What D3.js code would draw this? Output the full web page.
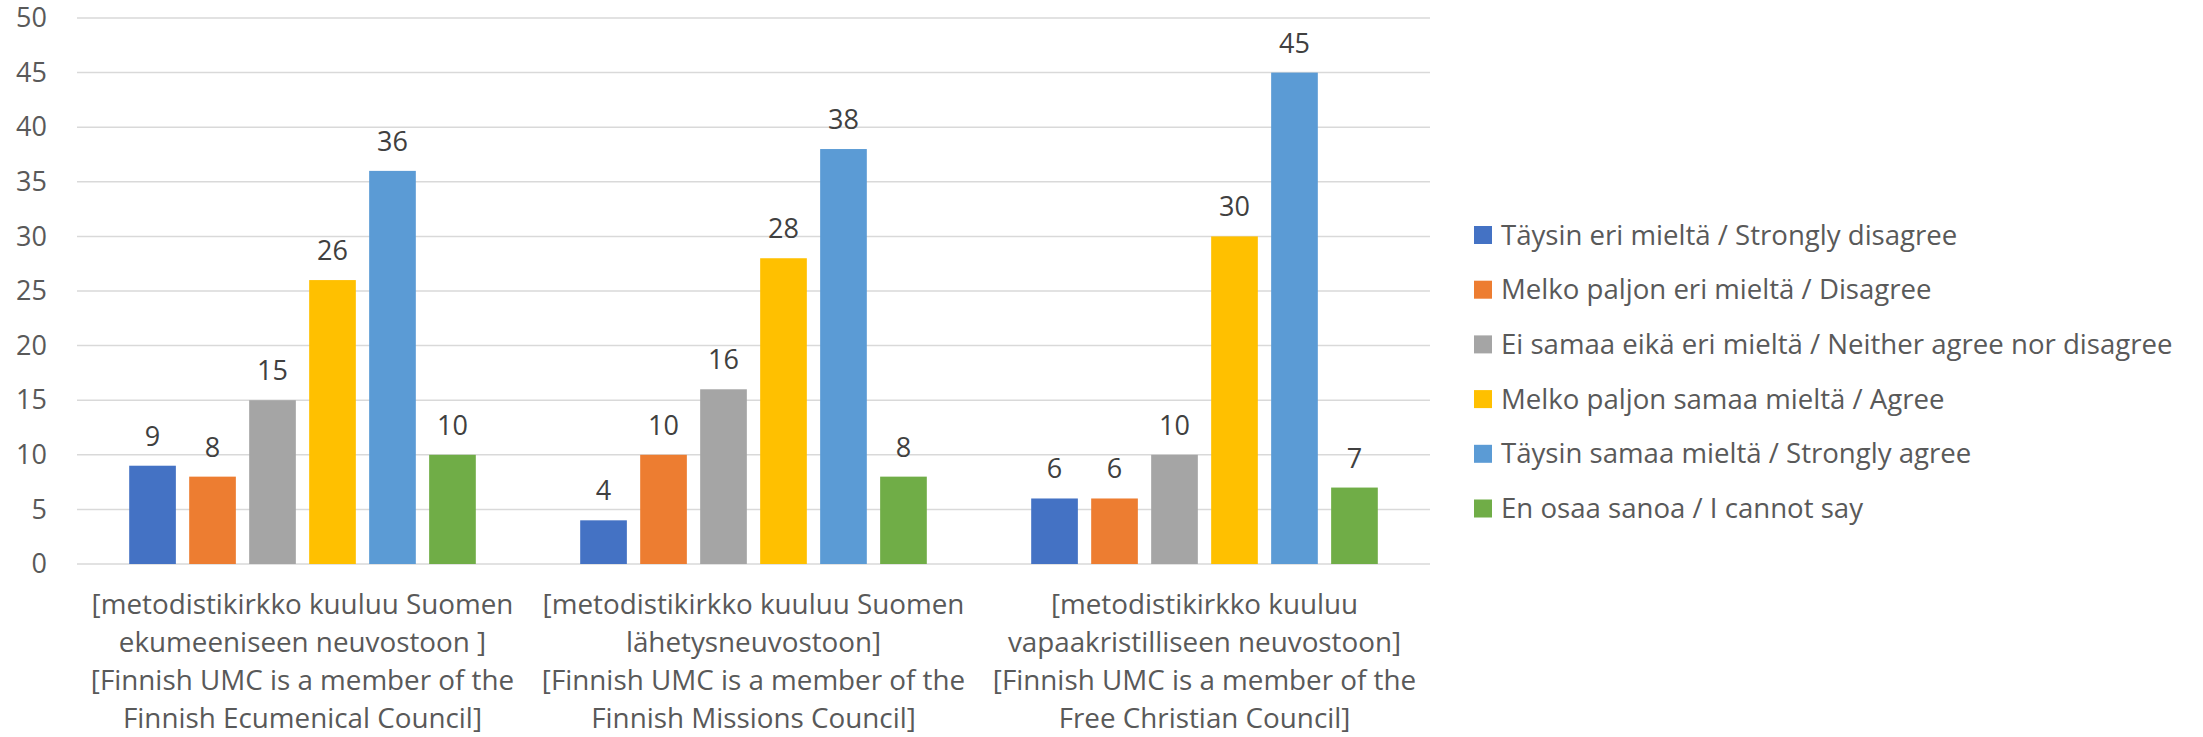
<!DOCTYPE html>
<html><head><meta charset="utf-8">
<script src="https://cdn.jsdelivr.net/npm/d3@7"></script>
<style>body{margin:0;background:#fff}svg{display:block}text{font-family:"Open Sans",sans-serif}</style>
</head><body>
<svg id="c" width="2203" height="737"></svg>
<script>
const categories = [
  ["[metodistikirkko kuuluu Suomen","ekumeeniseen neuvostoon ]","[Finnish UMC is a member of the","Finnish Ecumenical Council]"],
  ["[metodistikirkko kuuluu Suomen","lähetysneuvostoon]","[Finnish UMC is a member of the","Finnish Missions Council]"],
  ["[metodistikirkko kuuluu","vapaakristilliseen neuvostoon]","[Finnish UMC is a member of the","Free Christian Council]"]
];
const seriesNames = [
  "Täysin eri mieltä / Strongly disagree",
  "Melko paljon eri mieltä / Disagree",
  "Ei samaa eikä eri mieltä / Neither agree nor disagree",
  "Melko paljon samaa mieltä / Agree",
  "Täysin samaa mieltä / Strongly agree",
  "En osaa sanoa / I cannot say"
];
const stronglyDisagree = [9, 4, 6];
const disagree = [8, 10, 6];
const neither = [15, 16, 10];
const agree = [26, 28, 30];
const stronglyAgree = [36, 38, 45];
const cannotSay = [10, 8, 7];
const seriesValues = [stronglyDisagree, disagree, neither, agree, stronglyAgree, cannotSay];
const colors = ["#4472C4","#ED7D31","#A5A5A5","#FFC000","#5B9BD5","#70AD47"];
const yTicks = [0,5,10,15,20,25,30,35,40,45,50];

(function(){
const svg = d3.select("#c");
const mLeft = 77, mRight = 1430, mTop = 18, mBottom = 564;
const catIdx = categories.map((d,i)=>i);
const x0 = d3.scaleBand().domain(catIdx).range([mLeft, mRight]).padding(0);
const x1 = d3.scaleBand().domain(d3.range(seriesNames.length)).range([0, x0.bandwidth()]).paddingInner(0.222).paddingOuter(0.87);
const y = d3.scaleLinear().domain([0, 50]).range([mBottom, mTop]);

svg.append("g").selectAll("line").data(yTicks).join("line")
  .attr("x1", mLeft).attr("x2", mRight)
  .attr("y1", d=>y(d)).attr("y2", d=>y(d))
  .attr("stroke", "#d9d9d9").attr("stroke-width", 1.5);

const yAxis = d3.axisLeft(y).tickValues(yTicks).tickSize(0).tickPadding(0);
const ya = svg.append("g").attr("transform", `translate(47,0)`).call(yAxis);
ya.select(".domain").remove();
ya.selectAll("text").attr("font-size", 27).attr("fill", "#595959").attr("font-family", '"Open Sans",sans-serif');

const groups = svg.append("g").selectAll("g").data(catIdx).join("g")
  .attr("transform", d=>`translate(${x0(d)},0)`);
groups.selectAll("rect").data(ci => seriesValues.map((s,si)=>({si, v:s[ci]}))).join("rect")
  .attr("x", d=>x1(d.si)).attr("width", x1.bandwidth())
  .attr("y", d=>y(d.v)).attr("height", d=>y(0)-y(d.v))
  .attr("fill", d=>colors[d.si]);
groups.selectAll("text.val").data(ci => seriesValues.map((s,si)=>({si, v:s[ci]}))).join("text")
  .attr("class","val")
  .attr("x", d=>x1(d.si)+x1.bandwidth()/2).attr("y", d=>y(d.v)-20)
  .attr("text-anchor","middle").attr("font-size", 27).attr("fill","#404040")
  .text(d=>d.v);

const xl = svg.append("g");
categories.forEach((lines, ci) => {
  const t = xl.append("text").attr("text-anchor","middle").attr("font-size",27.8).attr("fill","#595959");
  lines.forEach((ln, li) => {
    t.append("tspan").attr("x", x0(ci)+x0.bandwidth()/2).attr("y", 614 + li*38).text(ln);
  });
});

const lg = svg.append("g");
seriesNames.forEach((n, i) => {
  const cy = 235 + i*54.7;
  lg.append("rect").attr("x", 1474).attr("y", cy-9).attr("width", 18).attr("height", 18).attr("fill", colors[i]);
  lg.append("text").attr("x", 1501).attr("y", cy).attr("dy","0.35em").attr("font-size", 27.6).attr("fill","#595959").text(n);
});
})();
</script>
</body></html>
